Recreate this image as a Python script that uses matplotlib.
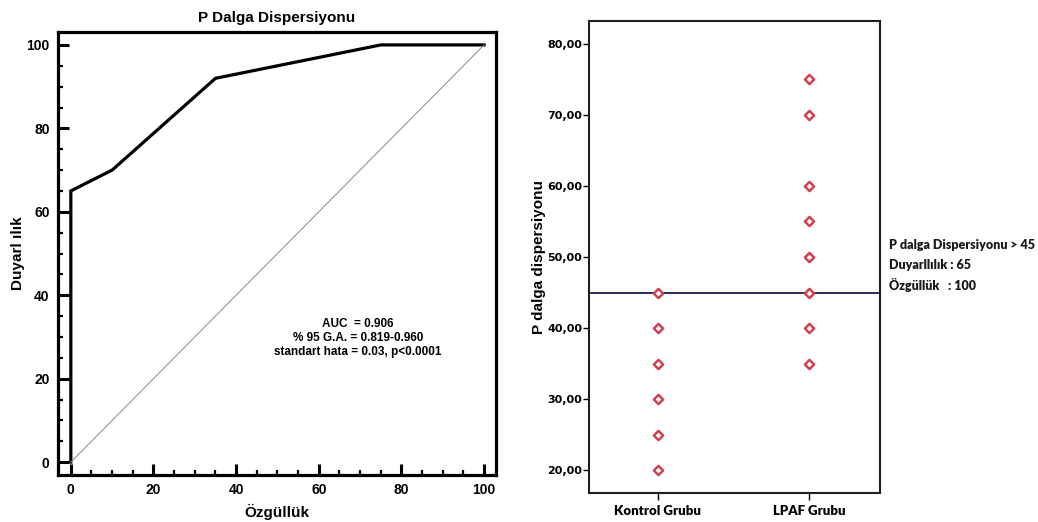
import matplotlib.pyplot as plt
from matplotlib.ticker import MultipleLocator

# ROC curve (left panel)
roc_x = [0, 0, 10, 35, 75, 100]
roc_y = [0, 65, 70, 92, 100, 100]
diag = [0, 100]
roc_text = 'AUC  = 0.906\n% 95 G.A. = 0.819-0.960\nstandart hata = 0.03, p<0.0001'

# dot plot (right panel)
groups = ['Kontrol Grubu', 'LPAF Grubu']
kontrol = [45, 40, 35, 30, 25, 20]
lpaf = [75, 70, 60, 55, 50, 45, 40, 35]
cutoff = 45
cut_lines = ['P dalga Dispersiyonu > 45', 'Duyarllılık : 65', 'Özgüllük   : 100']

plt.rcParams['font.family'] = ['Liberation Sans', 'DejaVu Sans']
fig = plt.figure(figsize=(10.38, 5.22), dpi=100)

# ---- left: ROC ----
ax = fig.add_axes([0.0559, 0.0900, 0.422, 0.8487])
ax.plot(roc_x, roc_y, color='black', lw=2.3, solid_joinstyle='miter')
ax.plot(diag, diag, color='#8a8a8a', lw=0.7)
ax.set_xlim(-3.1, 102.9)
ax.set_ylim(-3.1, 103.1)
for s in ax.spines.values():
    s.set_linewidth(2.3)
ax.xaxis.set_major_locator(MultipleLocator(20))
ax.xaxis.set_minor_locator(MultipleLocator(5))
ax.yaxis.set_major_locator(MultipleLocator(20))
ax.yaxis.set_minor_locator(MultipleLocator(5))
ax.tick_params(which='major', direction='in', length=8, width=2.2, labelsize=10, pad=6)
ax.tick_params(which='minor', direction='in', length=3.5, width=1.6)
for lab in ax.get_xticklabels() + ax.get_yticklabels():
    lab.set_fontweight('bold')
ax.set_title('P Dalga Dispersiyonu', fontsize=11, fontweight='bold', pad=7)
ax.set_xlabel('Özgüllük', fontsize=11, fontweight='bold', labelpad=5)
ax.set_ylabel('Duyarl ılık', fontsize=11, fontweight='bold', labelpad=1)
ax.text(69.5, 29.8, roc_text, ha='center', va='center', fontsize=8.5,
        fontweight='bold', linespacing=1.2, multialignment='center')

# ---- right: dot plot ----
ax2 = fig.add_axes([0.5674, 0.0556, 0.2803, 0.9042])
red = '#d0414f'
ax2.scatter([0] * len(kontrol), kontrol, marker='D', s=22, facecolors='white',
            edgecolors=red, linewidths=1.8, zorder=3)
ax2.scatter([1] * len(lpaf), lpaf, marker='D', s=22, facecolors='white',
            edgecolors=red, linewidths=1.8, zorder=3)
ax2.axhline(cutoff, color='#2c2c52', lw=1.4)
ax2.set_xlim(-0.457, 1.47)
ax2.set_ylim(16.8, 83.2)
for s in ax2.spines.values():
    s.set_linewidth(1.5)
    s.set_color('#1e1e1e')
ax2.set_yticks(range(20, 81, 10))
ax2.set_yticklabels([f'{v},00' for v in range(20, 81, 10)],
                    family=['Liberation Sans Narrow', 'DejaVu Sans'],
                    fontweight='bold', fontsize=8)
ax2.set_xticks([0, 1])
ax2.set_xticklabels(groups, family=['Lato', 'DejaVu Sans'], fontweight='heavy',
                    fontsize=9.5)
ax2.tick_params(axis='y', length=4, width=1, pad=1)
ax2.tick_params(axis='x', length=5, width=1, pad=4)
ax2.set_ylabel('P dalga dispersiyonu', fontsize=11, fontweight='bold', labelpad=1)

for i, t in enumerate(cut_lines):
    ax2.text(1.031, 0.526 - i * 0.043, t, transform=ax2.transAxes, ha='left',
             va='center', fontsize=9, fontweight='heavy', color='#1a1a1a',
             family=['Lato', 'DejaVu Sans'])

fig.savefig('out.png', dpi=100)
